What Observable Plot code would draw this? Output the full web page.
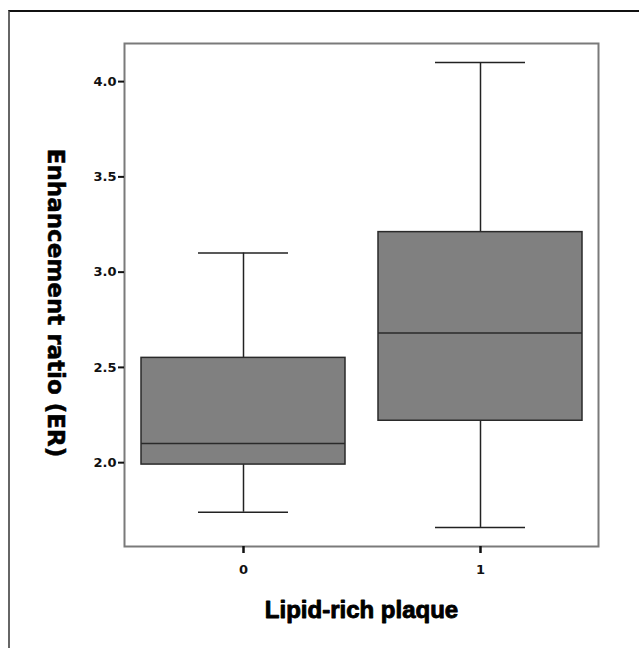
<!DOCTYPE html>
<html>
<head>
<meta charset="utf-8">
<script src="https://cdn.jsdelivr.net/npm/d3@7"></script>
<script src="https://cdn.jsdelivr.net/npm/@observablehq/plot@0.6"></script>
<style>
  html, body { margin: 0; padding: 0; background: #fff; }
  #wrap { position: relative; width: 639px; height: 648px; overflow: hidden; }
  #border { position: absolute; left: 8px; top: 10px; width: 700px; height: 700px;
            border-top: 2px solid #111; border-left: 2px solid #666; pointer-events: none; }
  #chart { position: absolute; left: 0; top: 0; }
</style>
</head>
<body>
<div id="wrap"><div id="chart"></div><div id="border"></div></div>
<script>
// Data
const categories = ["0", "1"];
const whiskerLow = [1.74, 1.66];
const q1 = [1.99, 2.22];
const median = [2.10, 2.68];
const q3 = [2.55, 3.21];
const whiskerHigh = [3.10, 4.10];
const yTicks = [2.0, 2.5, 3.0, 3.5, 4.0];
const xTitle = "Lipid-rich plaque";
const yTitle = "Enhancement ratio (ER)";

const rows = categories.map((c, i) => ({
  group: c, lo: whiskerLow[i], q1: q1[i], med: median[i], q3: q3[i], hi: whiskerHigh[i]
}));

const chart = Plot.plot({
  width: 639,
  height: 648,
  marginLeft: 124,
  marginRight: 41,
  marginTop: 43,
  marginBottom: 102,
  style: { fontFamily: "DejaVu Sans", background: "transparent" },
  x: { type: "band", domain: categories, paddingInner: 0.14, paddingOuter: 0.07, label: null },
  y: { domain: [1.56, 4.2], label: null },
  marks: [
    Plot.ruleX(rows, { x: "group", y1: "lo", y2: "q1", stroke: "#222", strokeWidth: 1.5 }),
    Plot.ruleX(rows, { x: "group", y1: "q3", y2: "hi", stroke: "#222", strokeWidth: 1.5 }),
    Plot.tickY(rows, { x: "group", y: "lo", stroke: "#222", strokeWidth: 1.5, insetLeft: 57, insetRight: 57 }),
    Plot.tickY(rows, { x: "group", y: "hi", stroke: "#222", strokeWidth: 1.5, insetLeft: 57, insetRight: 57 }),
    Plot.barY(rows, { x: "group", y1: "q1", y2: "q3", fill: "#808080", stroke: "#2a2a2a", strokeWidth: 1.5 }),
    Plot.tickY(rows, { x: "group", y: "med", stroke: "#2a2a2a", strokeWidth: 1.5 }),
    Plot.frame({ stroke: "#7a7a7a", strokeWidth: 2 }),
    Plot.axisY({ ticks: yTicks, tickFormat: d3.format(".1f"), tickSize: 6, tickPadding: 2,
                 strokeWidth: 2, stroke: "#111", fontWeight: "bold", fontSize: 13, fill: "#111", label: null }),
    Plot.axisX({ tickSize: 7, tickPadding: 11, strokeWidth: 2.5, stroke: "#111",
                 fontWeight: "bold", fontSize: 13, fill: "#111", label: null }),
    Plot.text([xTitle], { frameAnchor: "bottom", dy: 71, text: d => d, fontSize: 24, fontWeight: "bold",
                 fontFamily: "Liberation Sans", fill: "#000", stroke: "#000", strokeWidth: 0.9 }),
    Plot.text([yTitle], { frameAnchor: "left", textAnchor: "middle", dx: -69, dy: 8, rotate: 90, text: d => d,
                 fontSize: 23, fontWeight: "bold", fontFamily: "DejaVu Sans", fill: "#000", stroke: "#000", strokeWidth: 0.5 })
  ]
});
document.getElementById("chart").appendChild(chart);
</script>
</body>
</html>
